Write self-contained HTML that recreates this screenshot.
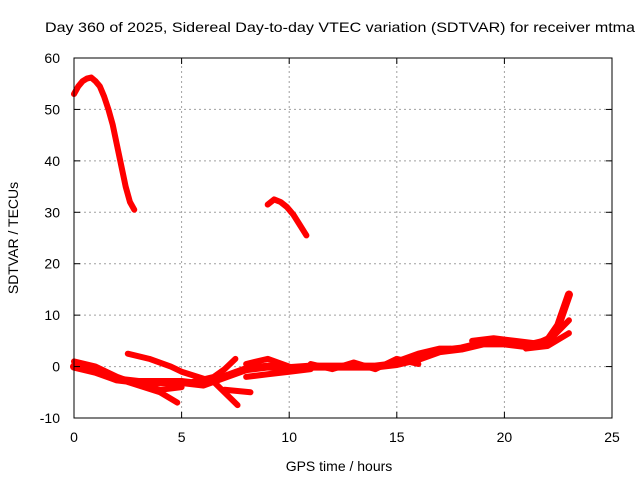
<!DOCTYPE html>
<html><head><meta charset="utf-8"><style>
body{margin:0;background:#fff}
svg{display:block;font-family:"Liberation Sans",sans-serif}
</style></head><body>
<svg id="chart" width="640" height="480">
<rect width="640" height="480" fill="#fff"/>
<text x="45" y="32" font-size="14" textLength="590" lengthAdjust="spacingAndGlyphs">Day 360 of 2025, Sidereal Day-to-day VTEC variation (SDTVAR) for receiver mtma</text>
<text x="339" y="471" font-size="14" text-anchor="middle">GPS time / hours</text>
<text transform="translate(18,238) rotate(-90)" font-size="14" text-anchor="middle">SDTVAR / TECUs</text>
<g id="grid"></g><g id="series"></g><g id="axes"></g>
</svg>
<script>
const xTicks=[0,5,10,15,20,25];
const yTicks=[-10,0,10,20,30,40,50,60];
const seriesArc=[[0,53],[0.2,54.5],[0.4,55.5],[0.6,56],[0.8,56.2],[1.0,55.5],[1.2,54.5],[1.4,52.5],[1.6,50],[1.8,47],[2.0,43],[2.2,39],[2.4,35],[2.6,32],[2.8,30.5]];
const seriesMid=[[9,31.5],[9.3,32.5],[9.6,32],[9.9,31],[10.2,29.5],[10.5,27.5],[10.8,25.5]];
const seriesMain=[[0,0],[1,-1],[2,-2.5],[3,-3],[4,-3],[5,-3],[6,-3.5],[7,-2],[8,-0.5],[9,0],[10,-0.3],[11,0],[12,0],[13,0],[14,0],[15,0.5],[16,1.5],[17,3],[18,3.5],[19,4.5],[20,4.5],[21,4],[22,5],[22.5,8],[23,14]];
const branch1=[[0,1],[1,0],[2,-2],[3,-3.5],[4,-4.5],[5,-4]];
const branch2=[[2.5,2.5],[3.5,1.5],[4.5,0],[5,-1],[6.5,-3],[7.6,-7.5]];
const branch3=[[2.5,-3],[4,-5],[4.8,-7]];
const branch4=[[5.5,-3],[6.5,-2],[7,-0.5],[7.5,1.5]];
const branch5=[[7,-4.5],[8.2,-5]];
const branch6=[[8,0.5],[9,1.5],[10,0]];
const branch7=[[8,-2],[9,-1.5],[10,-1],[11,-0.5]];
const branch8=[[15,1],[16,2.5],[17,3.5],[17.5,3.5]];
const branch9=[[18.5,5],[19.5,5.5],[20.5,5],[21.5,4.5],[22.3,6],[23,9]];
const branch10=[[21,3.5],[22,4],[23,6.5]];
const branch11=[[11,0.5],[12,-0.5],[13,0.8],[14,-0.5],[15,1.5],[16,0.5]];
const allSeries=[seriesArc,seriesMid,seriesMain,branch1,branch2,branch3,branch4,branch5,branch6,branch7,branch8,branch9,branch10,branch11];
const X0=74,X1=612,Y0=418,Y1=58;
const xs=v=>X0+(v-0)/(25-0)*(X1-X0);
const ys=v=>Y0-(v+10)/70*(Y0-Y1);
const NS="http://www.w3.org/2000/svg";
const grid=document.getElementById('grid'),axes=document.getElementById('axes'),ser=document.getElementById('series');
function mk(tag,attrs,parent){const e=document.createElementNS(NS,tag);for(const k in attrs)e.setAttribute(k,attrs[k]);parent.appendChild(e);return e;}
xTicks.forEach(t=>{
 if(t>0&&t<25){const g=mk('line',{x1:xs(t),x2:xs(t),y1:Y0,y2:Y1,stroke:'#a0a0a0','stroke-dasharray':'2,3'},grid);
 
 }
 const l=mk('text',{x:xs(t),y:Y0+24,'font-size':14,'text-anchor':'middle'},axes);l.textContent=t;
 
 
 mk('line',{x1:xs(t),x2:xs(t),y1:Y0,y2:Y0-6,stroke:'#000'},axes);
 mk('line',{x1:xs(t),x2:xs(t),y1:Y1,y2:Y1+6,stroke:'#000'},axes);
});
yTicks.forEach(t=>{
 if(t>-10&&t<60){const g=mk('line',{x1:X0,x2:X1,y1:ys(t),y2:ys(t),stroke:'#a0a0a0','stroke-dasharray':'2,3'},grid);
 
 }
 const l=mk('text',{x:X0-14,y:ys(t)+5,'font-size':14,'text-anchor':'end'},axes);l.textContent=t;
 
 
 mk('line',{x1:X0,x2:X0+6,y1:ys(t),y2:ys(t),stroke:'#000'},axes);
 mk('line',{x1:X1,x2:X1-6,y1:ys(t),y2:ys(t),stroke:'#000'},axes);
});
const frame=mk('rect',{x:X0,y:Y1,width:X1-X0,height:Y0-Y1,fill:'none',stroke:'#000'},axes);


allSeries.forEach((s,i)=>{
 const p=mk('polyline',{points:s.map(d=>xs(d[0])+','+ys(d[1])).join(' '),fill:'none',stroke:'#ff0000','stroke-width':i===2?8:6,'stroke-linejoin':'round','stroke-linecap':'round'},ser);
 
 
});
</script>
</body></html>
